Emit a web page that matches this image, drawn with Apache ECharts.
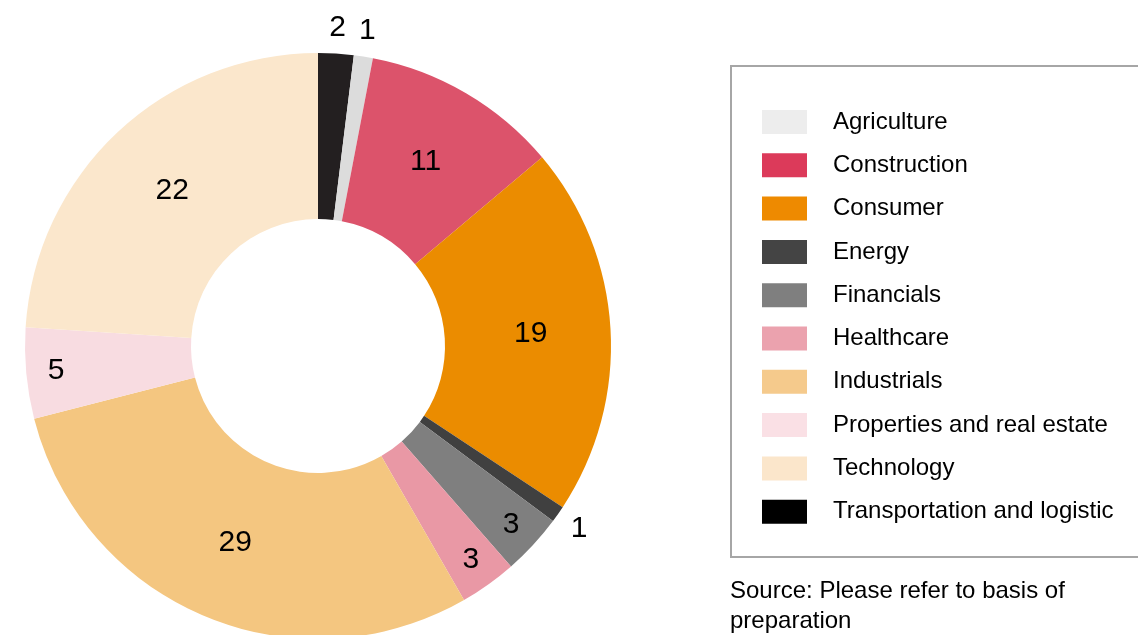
<!DOCTYPE html>
<html>
<head>
<meta charset="utf-8">
<script src="https://cdn.jsdelivr.net/npm/echarts@6/dist/echarts.min.js"></script>
<style>
  html, body { margin: 0; padding: 0; background: #fff; }
  #main { width: 1138px; height: 635px; }
</style>
</head>
<body>
<div id="main"></div>
<script>
// slice order clockwise from 12 o'clock
var sectors = ['Transportation and logistic', 'Agriculture', 'Construction', 'Consumer', 'Energy',
  'Financials', 'Healthcare', 'Industrials', 'Properties and real estate', 'Technology'];
// share of the ring (%)
var shares = [1.95, 1.05, 10.85, 20.4, 0.92, 3.36, 3.14, 29.3, 5.0, 23.97];
// numbers printed on the slices
var labelValues = [2, 1, 11, 19, 1, 3, 3, 29, 5, 22];
// where each number sits: mid ring, near the rim, outside the ring
var labelPlace = ['out', 'out', 'mid', 'mid', 'out', 'rim', 'rim', 'mid', 'rim', 'mid'];
var sliceColors = ['#231f20', '#dcdcdc', '#dc536b', '#eb8c00', '#404040',
  '#7f7f7f', '#e998a5', '#f4c680', '#f8dce1', '#fbe7cc'];

// legend order and swatch colours
var legendNames = ['Agriculture', 'Construction', 'Consumer', 'Energy', 'Financials', 'Healthcare',
  'Industrials', 'Properties and real estate', 'Technology', 'Transportation and logistic'];
var legendColors = ['#ededed', '#dc3a5a', '#ee8a00', '#444444', '#7f7f7f', '#eba2ae',
  '#f5ca8c', '#fae0e5', '#fbe6cb', '#000000'];

var FONT = '"Liberation Sans", Arial, sans-serif';

function buildData(place, colored) {
  return sectors.map(function (name, i) {
    return {
      name: name,
      value: shares[i],
      itemStyle: { color: colored ? sliceColors[i] : 'rgba(0,0,0,0)' },
      label: { show: labelPlace[i] === place, formatter: String(labelValues[i]) }
    };
  });
}

function ring(radius, place, colored) {
  return {
    type: 'pie',
    center: [318, 346],
    radius: radius,
    startAngle: 90,
    clockwise: true,
    avoidLabelOverlap: false,
    silent: !colored,
    label: { position: 'inside', color: '#000', fontSize: 30, fontFamily: FONT },
    labelLine: { show: false },
    emphasis: { disabled: true },
    itemStyle: { borderWidth: 0 },
    data: buildData(place, colored)
  };
}

var chart = echarts.init(document.getElementById('main'));
chart.setOption({
  animation: false,
  backgroundColor: '#fff',
  legend: {
    orient: 'vertical',
    left: 762,
    top: 110,
    padding: 0,
    itemWidth: 45,
    itemHeight: 24,
    itemGap: 19.3,
    icon: 'rect',
    selectedMode: false,
    textStyle: { color: '#000', fontSize: 24, fontFamily: FONT, lineHeight: 24, padding: [0, 0, 0, 21] },
    data: legendNames.map(function (n, i) {
      return { name: n, itemStyle: { color: legendColors[i] } };
    })
  },
  graphic: [
    {
      type: 'rect',
      shape: { x: 731, y: 66, width: 480, height: 491 },
      style: { fill: 'none', stroke: '#a6a6a6', lineWidth: 2 },
      z: -1
    },
    {
      type: 'text',
      left: 730,
      top: 576,
      style: {
        text: 'Source: Please refer to basis of\npreparation',
        fill: '#000',
        font: '24px ' + FONT,
        lineHeight: 30
      }
    }
  ],
  series: [
    ring([127, 293], 'mid', true),
    ring([240, 280], 'rim', false),
    ring([296, 336], 'out', false)
  ]
});
</script>
</body>
</html>
